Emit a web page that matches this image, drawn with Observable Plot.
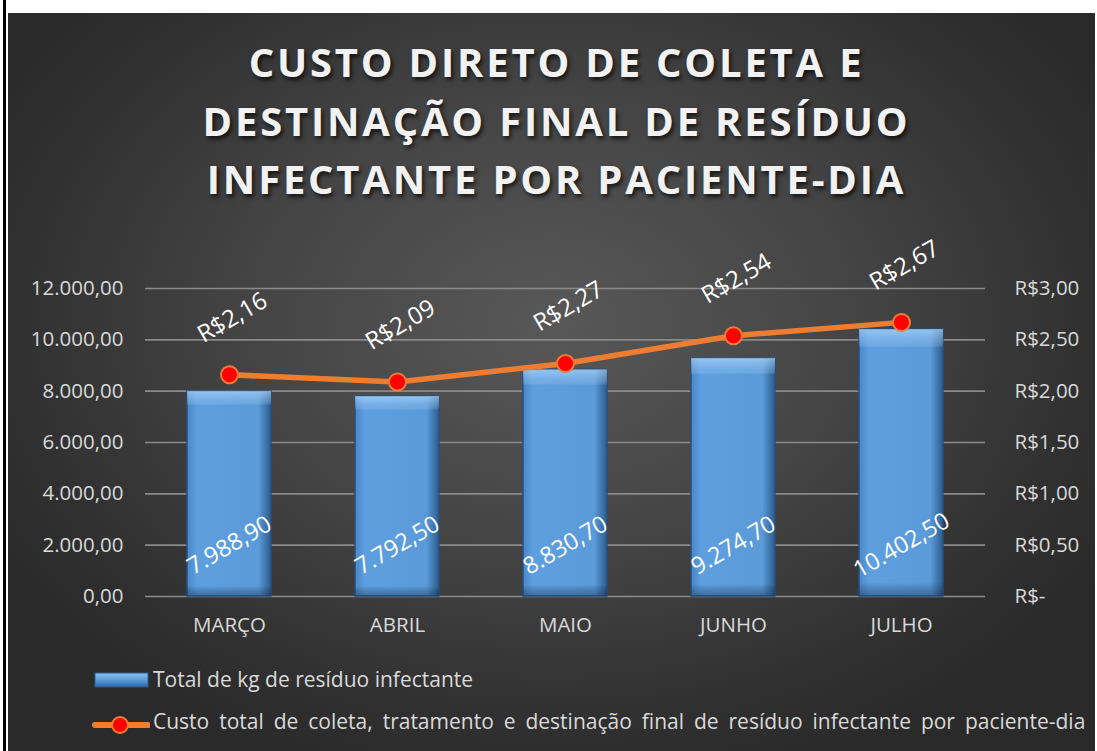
<!DOCTYPE html>
<html>
<head>
<meta charset="utf-8">
<script src="https://cdn.jsdelivr.net/npm/d3@7"></script>
<script src="https://cdn.jsdelivr.net/npm/@observablehq/plot@0.6"></script>
<style>
  html, body { margin: 0; padding: 0; background: #ffffff; }
  #wrap { position: relative; width: 1097px; height: 751px; overflow: hidden; font-family: "Open Sans", sans-serif; }
  #edge { position: absolute; left: 3px; top: 0; width: 3px; height: 751px; background: #000; }
  #panel { position: absolute; left: 8px; top: 13px; width: 1087px; height: 738px;
    background: radial-gradient(ellipse 60% 65% at 50% 42%, #585858 0%, #454545 45%, #2f2f2f 85%, #2a2a2a 100%); }
  #title { position: absolute; left: 8px; top: 33px; width: 1097px; text-align: center; color: #f2f2f2;
    font-family: "Open Sans", sans-serif; font-weight: 700; font-size: 40px; line-height: 58.5px; letter-spacing: 2.8px;
    text-shadow: 2px 3px 4px rgba(0,0,0,0.7); }
  #chart { position: absolute; left: 0; top: 240px; }
  .leg { position: absolute; left: 0; color: #d9d9d9; font-size: 21px; }
  .leg span { position: absolute; left: 153px; white-space: nowrap; }
</style>
</head>
<body>
<div id="wrap">
  <div id="edge"></div>
  <div id="panel"></div>
  <div id="title">CUSTO DIRETO DE COLETA E<br>DESTINAÇÃO FINAL DE RESÍDUO<br>INFECTANTE POR PACIENTE-DIA</div>
  <div id="chart"></div>
  <div class="leg" style="top:665px;">
    <svg width="150" height="30" style="position:absolute;left:0;top:0">
      <defs>
        <linearGradient id="lgbar" x1="0" y1="0" x2="0" y2="1">
          <stop offset="0" stop-color="#8cc0f0"/><stop offset="0.5" stop-color="#5b9bd5"/><stop offset="1" stop-color="#2f6aa6"/>
        </linearGradient>
      </defs>
      <rect x="95" y="8" width="53" height="14" fill="url(#lgbar)" stroke="#2a5a8c" stroke-width="1"/>
    </svg>
    <span style="top:0px">Total de kg de resíduo infectante</span>
  </div>
  <div class="leg" style="top:707px;">
    <svg width="150" height="34" style="position:absolute;left:0;top:0">
      <line x1="95" y1="18" x2="148" y2="18" stroke="#ed7d31" stroke-width="6" stroke-linecap="round"/>
      <circle cx="120" cy="18" r="8" fill="#ff0000" stroke="#ed7d31" stroke-width="2"/>
    </svg>
    <span style="top:0px; word-spacing: 4.5px;">Custo total de coleta, tratamento e destinação final de resíduo infectante por paciente-dia</span>
  </div>
</div>
<script>
const months = ["MARÇO", "ABRIL", "MAIO", "JUNHO", "JULHO"];
const kgValues = [7988.90, 7792.50, 8830.70, 9274.70, 10402.50];
const costValues = [2.16, 2.09, 2.27, 2.54, 2.67];
const kgTicks = [0, 2000, 4000, 6000, 8000, 10000, 12000];
const costTicks = [0, 0.5, 1.0, 1.5, 2.0, 2.5, 3.0];
const axisRatio = 12000 / 3; // right axis 0..3 maps onto left axis 0..12000

const data = months.map((m, i) => ({ month: m, kg: kgValues[i], cost: costValues[i] }));

const fmtKg = v => v.toLocaleString("pt-BR", { minimumFractionDigits: 2, maximumFractionDigits: 2 });
const fmtCost = v => v === 0 ? "R$-" : "R$" + v.toLocaleString("pt-BR", { minimumFractionDigits: 2, maximumFractionDigits: 2 });

const chart = Plot.plot({
  width: 1097,
  height: 400,
  marginLeft: 145,
  marginRight: 112,
  marginTop: 48,
  marginBottom: 44,
  style: { background: "transparent", fontFamily: "Open Sans, sans-serif", fontSize: "20.5px", color: "#d9d9d9", overflow: "visible" },
  x: { type: "band", domain: months, paddingInner: 0.5, paddingOuter: 0.25, label: null },
  y: { domain: [0, 12000], label: null },
  marks: [
    Plot.ruleY(kgTicks, { stroke: "#8a8a8a", strokeWidth: 1.6 }),
    Plot.axisY(kgTicks, { anchor: "left", tickSize: 0, tickPadding: 22, tickFormat: fmtKg, label: null, fill: "#d9d9d9", fontSize: 20.5 }),
    Plot.axisY(costTicks.map(v => v * axisRatio), { anchor: "right", tickSize: 0, tickPadding: 29, textAnchor: "start",
      tickFormat: v => fmtCost(v / axisRatio), label: null, fill: "#d9d9d9", fontSize: 20.5 }),
    Plot.axisX({ tickSize: 0, tickPadding: 21, label: null, fill: "#d9d9d9", fontSize: 20.5 }),
    Plot.barY(data, { x: "month", y: "kg", fill: "url(#bargrad)", stroke: "#24527f", strokeWidth: 1.5 }),
    Plot.barY(data, { x: "month", y: "kg", fill: "url(#barshade)" }),
    Plot.text(data, { x: "month", y: 0, text: d => fmtKg(d.kg), rotate: -30, dy: -51, fill: "#ffffff", fontSize: 23.5 }),
    Plot.line(data, { x: "month", y: d => d.cost * axisRatio, stroke: "#ed7d31", strokeWidth: 5.5 }),
    Plot.dot(data, { x: "month", y: d => d.cost * axisRatio, r: 8.5, fill: "#ff0000", stroke: "#ed7d31", strokeWidth: 2 }),
    Plot.text(data, { x: "month", y: d => d.cost * axisRatio, text: d => fmtCost(d.cost), rotate: -30, dx: 3, dy: -57, fill: "#ffffff", fontSize: 24 })
  ]
});

const ns = "http://www.w3.org/2000/svg";
const defs = document.createElementNS(ns, "defs");
defs.innerHTML = `
  <linearGradient id="bargrad" x1="0" y1="0" x2="1" y2="0">
    <stop offset="0" stop-color="#4a86c6"/>
    <stop offset="0.12" stop-color="#5e9fe0"/>
    <stop offset="0.85" stop-color="#5a9ad8"/>
    <stop offset="1" stop-color="#2c5c8e"/>
  </linearGradient>
  <linearGradient id="barshade" x1="0" y1="0" x2="0" y2="1">
    <stop offset="0" stop-color="#c0e0ff" stop-opacity="0.6"/>
    <stop offset="0.055" stop-color="#9ccaf5" stop-opacity="0.3"/>
    <stop offset="0.07" stop-color="#ffffff" stop-opacity="0"/>
    <stop offset="0.95" stop-color="#000000" stop-opacity="0"/>
    <stop offset="1" stop-color="#0d2a4a" stop-opacity="0.4"/>
  </linearGradient>`;
chart.insertBefore(defs, chart.firstChild);
document.getElementById("chart").appendChild(chart);
</script>
</body>
</html>
